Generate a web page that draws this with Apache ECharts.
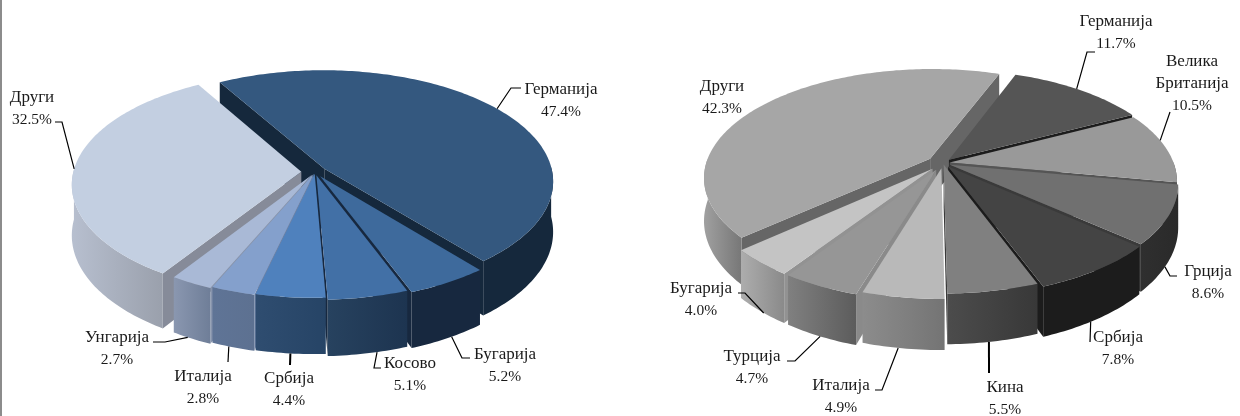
<!DOCTYPE html>
<html>
<head>
<meta charset="utf-8">
<title>Pie</title>
<style>
html,body{margin:0;padding:0;background:#fff}
#chart{width:1240px;height:416px}
</style>
<script src="https://cdn.jsdelivr.net/npm/echarts@6/dist/echarts.min.js"></script>
</head>
<body>
<div id="chart"></div>
<script>
// values are clockwise, starting at the first slice
let leftNames=['Германија','Бугарија','Косово','Србија','Италија','Унгарија','Други']
let leftValues=[47.4,5.2,5.1,4.4,2.8,2.7,32.5]
let rightNames=['Германија','Велика\nБританија','Грција','Србија','Кина','Италија','Турција','Бугарија','Други']
let rightValues=[11.7,10.5,8.6,7.8,5.5,4.9,4.7,4.0,42.3]

// look of each pie: top colour, wall gradient left/right, radial wall colour, explode
let leftStyle=[
    ['#34587f','#15283c','#15283c','#15283c',0.05],
    ['#3e6a9c','#17283f','#17283f','#17283f',0.045],
    ['#4270a6','#27425f','#1d3450','#17283f',0.03],
    ['#4f81bd','#2f4d70','#264466','#1f3a5c',0.015],
    ['#84a0cc','#5f7496','#5d7191','#6d82a6',0.02],
    ['#a9b9d6','#8a97b0','#6f7e98','#8794ad',0.03],
    ['#c3cfe1','#b7bfcf','#9aa0ac','#868b99',0.06]
]
let rightStyle=[
    ['#555555','#2a2a2a','#2a2a2a','#1c1c1c',0.04],
    ['#999999','#555555','#555555','#555555',0.03],
    ['#707070','#2f2f2f','#2a2a2a','#3a3a3a',0.035],
    ['#444444','#1c1c1c','#1c1c1c','#1c1c1c',0.04],
    ['#808080','#4c4c4c','#383838','#3a3a3a',0.015],
    ['#b9b9b9','#8c8c8c','#747474','#8f8f8f',0.05],
    ['#969696','#808080','#5c5c5c','#8a8a8a',0.07],
    ['#c4c4c4','#adadad','#8a8a8a','#929292',0.07],
    ['#a6a6a6','#a0a0a0','#777777','#666666',0.07]
]

// label centre x, first line y, elbow points of the leader, rim the leader meets (0 top, 1 bottom),
// angle shift of the leader end, leader width
let leftLabels=[
    [561,89,[[521,88],[511,88]],0,-1,1.2],
    [505,354,[[470,358],[462,358]],1,-1,1.2],
    [410,363,[[381,368],[374,368]],1,-2,1.2],
    [289,378,[[290,365]],1,0,2],
    [203,376,[[228,362]],1,1,1.2],
    [117,337,[[153,342],[165,342]],1,1,1.2],
    [32,97,[[55,122],[62,122]],0,0,1.2]
]
let rightLabels=[
    [1116,21,[[1095,52],[1087,52]],0,-1,1.2],
    [1192,61,[[1170,112]],0,-4,1.2],
    [1208,271,[[1177,276],[1170,276]],1,3,1.2],
    [1118,337,[[1090,342]],1,2,1.2],
    [1005,387,[[989,373]],1,1,2],
    [841,385,[[875,390],[882,390]],1,1,1.2],
    [752,356,[[787,361],[795,361]],1,0,1.2],
    [701,288,[[738,293],[745,293]],1,-1,1.2],
    [722,86,[],0,0,1.2]
]

let leftPie={cx:315,cy:172,r:228,tilt:0.483,persp:0.11,depth:50,start:-30}
let rightPie={cx:943,cy:163,r:224,tilt:0.475,persp:0.17,depth:42,start:20.5}

let fontName='Liberation Serif'

function rad(d){return d*Math.PI/180}

function project(p,u,v,z){
    let s=1/(1-p.persp*v)
    return [p.cx+p.r*u*s,p.cy+p.r*p.tilt*v*s+z*p.depth*s]
}

// angle range of every slice, clockwise from north
function slices(p,values,styles){
    let total=values.reduce((a,b)=>a+b,0)
    let a=p.start
    let list=[]
    values.forEach((val,i)=>{
        let b=a+val/total*360
        let mid=(a+b)/2
        let e=styles[i][4]
        list.push({a:a,b:b,mid:mid,ox:Math.sin(rad(mid))*e,oy:-Math.cos(rad(mid))*e,depthKey:-Math.cos(rad(mid))+(val>20?-0.2:0)})
        a=b
    })
    let order=list.map((s,i)=>i).sort((x,y)=>list[x].depthKey-list[y].depthKey)
    order.forEach((idx,rank)=>{list[idx].rank=rank})
    return list
}

function rim(p,s,ang,z){
    return project(p,Math.sin(rad(ang))+s.ox,-Math.cos(rad(ang))+s.oy,z)
}

function sliceShape(p,s,st){
    let kids=[]
    let base=(s.rank+1)*10
    let apexTop=project(p,s.ox,s.oy,0)
    let apexBot=project(p,s.ox,s.oy,1)
    // radial walls, only the ones turned to the viewer
    if(-Math.sin(rad(s.a))>0){
        kids.push({type:'polygon',z2:base,shape:{points:[apexTop,rim(p,s,s.a,0),rim(p,s,s.a,1),apexBot]},style:{fill:st[3]}})
    }
    if(Math.sin(rad(s.b))>0){
        kids.push({type:'polygon',z2:base+1,shape:{points:[apexTop,rim(p,s,s.b,0),rim(p,s,s.b,1),apexBot]},style:{fill:st[3]}})
    }
    // outer wall, front half of the rim
    let topPts=[]
    let botPts=[]
    for(let t=s.a;t<=s.b+0.001;t+=1){
        if(-Math.cos(rad(t))>-0.02){
            topPts.push(rim(p,s,t,0))
            botPts.push(rim(p,s,t,1))
        }
    }
    if(-Math.cos(rad(s.b))>-0.02){
        topPts.push(rim(p,s,s.b,0))
        botPts.push(rim(p,s,s.b,1))
    }
    if(topPts.length>1){
        kids.push({type:'polygon',z2:base+2,shape:{points:topPts.concat(botPts.reverse())},style:{
            fill:{type:'linear',x:0,y:0,x2:1,y2:0,colorStops:[{offset:0,color:st[1]},{offset:1,color:st[2]}]}
        }})
    }
    // top face
    let face=[apexTop]
    for(let t=s.a;t<s.b;t+=1){face.push(rim(p,s,t,0))}
    face.push(rim(p,s,s.b,0))
    kids.push({type:'polygon',z2:base+3,shape:{points:face},style:{fill:st[0]}})
    return kids
}

function pieSeries(p,names,values,styles,labels){
    let list=slices(p,values,styles)
    return {
        type:'custom',
        coordinateSystem:'none',
        silent:true,
        animation:false,
        data:values,
        renderItem:function(params,api){
            let i=params.dataIndex
            let val=api.value(0)
            let s=list[i]
            let kids=sliceShape(p,s,styles[i])
            let lab=labels[i]
            let lines=names[i].split('\n').map(n=>'{n|'+n+'}')
            lines.push('{p|'+val.toFixed(1)+'%}')
            kids.push({type:'text',z2:500,x:lab[0],y:lab[1]-11,style:{
                text:lines.join('\n'),fill:'#1a1a1a',align:'center',verticalAlign:'top',
                rich:{
                    n:{font:'17px "'+fontName+'"',fill:'#1a1a1a',lineHeight:22.5,align:'center'},
                    p:{font:'15.5px "'+fontName+'"',fill:'#1a1a1a',lineHeight:22,align:'center'}
                }
            }})
            if(lab[2].length>0){
                let pts=lab[2].concat([rim(p,s,s.mid+lab[4],lab[3])])
                kids.push({type:'polyline',z2:499,shape:{points:pts},style:{stroke:'#000',lineWidth:lab[5],fill:null}})
            }
            return {type:'group',children:kids}
        }
    }
}

let myChart=echarts.init(document.getElementById('chart'),null,{renderer:'canvas'})
let option={
    backgroundColor:'#ffffff',
    animation:false,
    graphic:[{type:'rect',shape:{x:0,y:0,width:2,height:416},style:{fill:'#8c8c8c'}}],
    series:[
        pieSeries(leftPie,leftNames,leftValues,leftStyle,leftLabels),
        pieSeries(rightPie,rightNames,rightValues,rightStyle,rightLabels)
    ]
}
myChart.setOption(option)
</script>
</body>
</html>
